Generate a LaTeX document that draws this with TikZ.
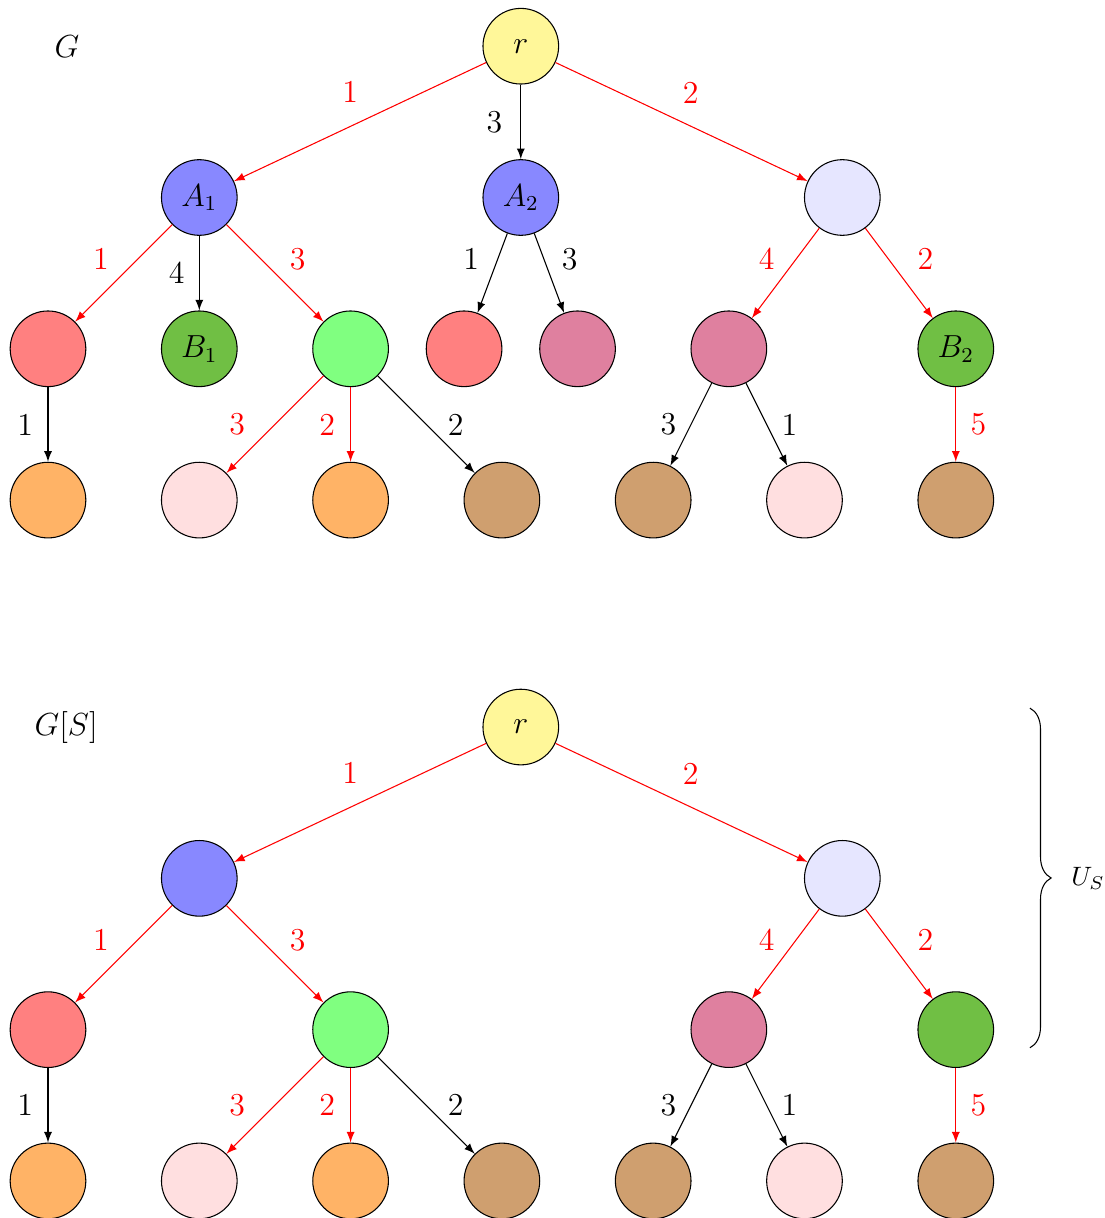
\documentclass[tikz,border=0pt]{standalone}
\usetikzlibrary{decorations.pathreplacing}
\definecolor{cYel}{RGB}{255,247,153}
\definecolor{cBlue}{RGB}{136,136,255}
\definecolor{cLav}{RGB}{230,230,255}
\definecolor{cRed}{RGB}{255,128,128}
\definecolor{cGreen}{RGB}{112,191,68}
\definecolor{cLG}{RGB}{128,255,128}
\definecolor{cPur}{RGB}{223,128,159}
\definecolor{cOr}{RGB}{255,179,102}
\definecolor{cLP}{RGB}{255,223,224}
\definecolor{cTan}{RGB}{207,159,111}
\begin{document}
\begin{tikzpicture}[
  v/.style={circle, draw=black, line width=0.4pt, minimum size=1cm, inner sep=0pt, font=\large},
  e/.style={-latex, line width=0.4pt, draw=black},
  re/.style={-latex, line width=0.4pt, draw=red},
  lb/.style={font=\large, inner sep=0pt, text=black},
  rl/.style={font=\large, inner sep=0pt, text=red},
]
\useasboundingbox (-0.6345,0.6107) rectangle (13.972,-15.490);

% ---------- top tree G ----------
\node[font=\large, inner sep=0pt] (gl) at (0.25,0) {$G$};
\node[v, fill=cYel] (tr) at (6.25,0) {$r$};
\node[v, fill=cBlue] (tA1) at (2,-2) {$A_1$};
\node[v, fill=cBlue] (tA2) at (6.25,-2) {$A_2$};
\node[v, fill=cLav] (tL) at (10.5,-2) {};
\node[v, fill=cRed] (t20) at (0,-4) {};
\node[v, fill=cGreen] (tB1) at (2,-4) {$B_1$};
\node[v, fill=cLG] (t22) at (4,-4) {};
\node[v, fill=cRed] (t23) at (5.5,-4) {};
\node[v, fill=cPur] (t24) at (7,-4) {};
\node[v, fill=cPur] (t25) at (9,-4) {};
\node[v, fill=cGreen] (tB2) at (12,-4) {$B_2$};
\node[v, fill=cOr] (t30) at (0,-6) {};
\node[v, fill=cLP] (t31) at (2,-6) {};
\node[v, fill=cOr] (t32) at (4,-6) {};
\node[v, fill=cTan] (t33) at (6,-6) {};
\node[v, fill=cTan] (t34) at (8,-6) {};
\node[v, fill=cLP] (t35) at (10,-6) {};
\node[v, fill=cTan] (t36) at (12,-6) {};

\draw[re] (tr) -- node[rl, xshift=-0.13cm, yshift=0.39cm] {1} (tA1);
\draw[e] (tr) -- node[lb, xshift=-0.35cm] {3} (tA2);
\draw[re] (tr) -- node[rl, xshift=0.12cm, yshift=0.38cm] {2} (tL);
\draw[re] (tA1) -- node[rl, xshift=-0.30cm, yshift=0.185cm] {1} (t20);
\draw[e] (tA1) -- node[lb, xshift=-0.30cm] {4} (tB1);
\draw[re] (tA1) -- node[rl, xshift=0.30cm, yshift=0.185cm] {3} (t22);
\draw[e] (tA2) -- node[lb, xshift=-0.28cm, yshift=0.19cm] {1} (t23);
\draw[e] (tA2) -- node[lb, xshift=0.27cm, yshift=0.19cm] {3} (t24);
\draw[re] (tL) -- node[rl, xshift=-0.25cm, yshift=0.185cm] {4} (t25);
\draw[re] (tL) -- node[rl, xshift=0.35cm, yshift=0.185cm] {2} (tB2);
\draw[e] (t20) -- node[lb, xshift=-0.30cm] {1} (t30);
\draw[re] (t22) -- node[rl, xshift=-0.50cm] {3} (t31);
\draw[re] (t22) -- node[rl, xshift=-0.31cm] {2} (t32);
\draw[e] (t22) -- node[lb, xshift=0.39cm] {2} (t33);
\draw[e] (t25) -- node[lb, xshift=-0.30cm] {3} (t34);
\draw[e] (t25) -- node[lb, xshift=0.30cm] {1} (t35);
\draw[re] (tB2) -- node[rl, xshift=0.30cm] {5} (t36);

% ---------- bottom tree G[S] ----------
\begin{scope}[yshift=-9cm]
\node[font=\large, inner sep=0pt] (gsl) at (0.24,0) {$G[S]$};
\node[v, fill=cYel] (br) at (6.25,0) {$r$};
\node[v, fill=cBlue] (bA1) at (2,-2) {};
\node[v, fill=cLav] (bL) at (10.5,-2) {};
\node[v, fill=cRed] (b20) at (0,-4) {};
\node[v, fill=cLG] (b22) at (4,-4) {};
\node[v, fill=cPur] (b25) at (9,-4) {};
\node[v, fill=cGreen] (bB2) at (12,-4) {};
\node[v, fill=cOr] (b30) at (0,-6) {};
\node[v, fill=cLP] (b31) at (2,-6) {};
\node[v, fill=cOr] (b32) at (4,-6) {};
\node[v, fill=cTan] (b33) at (6,-6) {};
\node[v, fill=cTan] (b34) at (8,-6) {};
\node[v, fill=cLP] (b35) at (10,-6) {};
\node[v, fill=cTan] (b36) at (12,-6) {};

\draw[re] (br) -- node[rl, xshift=-0.13cm, yshift=0.39cm] {1} (bA1);
\draw[re] (br) -- node[rl, xshift=0.12cm, yshift=0.38cm] {2} (bL);
\draw[re] (bA1) -- node[rl, xshift=-0.30cm, yshift=0.185cm] {1} (b20);
\draw[re] (bA1) -- node[rl, xshift=0.30cm, yshift=0.185cm] {3} (b22);
\draw[re] (bL) -- node[rl, xshift=-0.25cm, yshift=0.185cm] {4} (b25);
\draw[re] (bL) -- node[rl, xshift=0.35cm, yshift=0.185cm] {2} (bB2);
\draw[e] (b20) -- node[lb, xshift=-0.30cm] {1} (b30);
\draw[re] (b22) -- node[rl, xshift=-0.50cm] {3} (b31);
\draw[re] (b22) -- node[rl, xshift=-0.31cm] {2} (b32);
\draw[e] (b22) -- node[lb, xshift=0.39cm] {2} (b33);
\draw[e] (b25) -- node[lb, xshift=-0.30cm] {3} (b34);
\draw[e] (b25) -- node[lb, xshift=0.30cm] {1} (b35);
\draw[re] (bB2) -- node[rl, xshift=0.30cm] {5} (b36);

\coordinate (bt) at (12.98,0.25);
\coordinate (bb) at (12.98,-4.24);
\draw[line width=0.4pt, decorate, decoration={brace, amplitude=0.28cm}] (bt) -- (bb);
\node[anchor=west, inner sep=0pt] (us) at (13.52,-2.0) {$U_S$};
\end{scope}
\end{tikzpicture}
\end{document}
